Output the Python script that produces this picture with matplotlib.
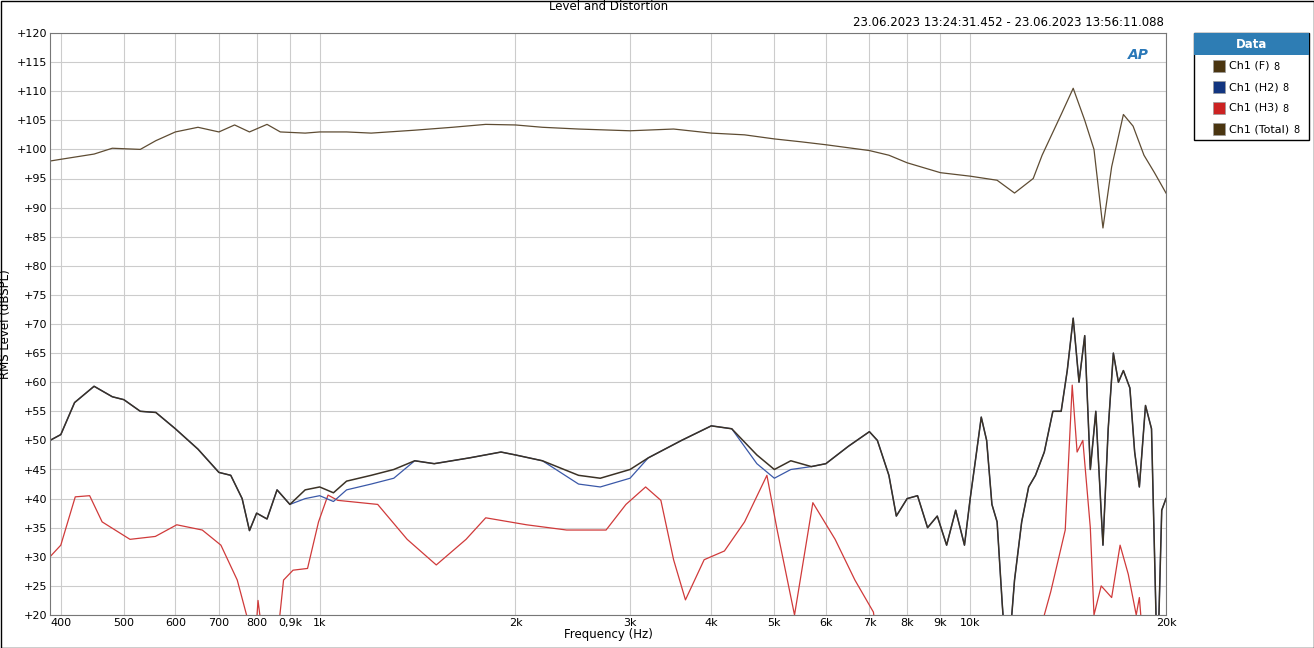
import matplotlib
matplotlib.use("Agg")
import matplotlib.pyplot as plt
from matplotlib.patches import Rectangle

f_freq = [385,400,450,480,530,560,600,650,700,740,780,830,870,950,1000,1100,1200,1400,1600,1800,2000,2200,2500,3000,3500,4000,4500,5000,5500,6000,7000,7500,8000,9000,10000,11000,11700,12500,12900,13800,14400,15000,15500,16000,16500,17200,17800,18500,19200,20000]
f_val  = [98,98.3,99.2,100.2,100,101.5,103,103.8,103,104.2,103,104.3,103,102.8,103,103,102.8,103.3,103.8,104.3,104.2,103.8,103.5,103.2,103.5,102.8,102.5,101.8,101.3,100.8,99.8,99,97.7,96,95.4,94.7,92.5,95,99,106,110.5,105,100,86.5,97,106,104,99,96,92.5]

t_freq = [385,400,420,450,480,500,530,560,600,650,700,730,760,780,800,830,860,900,950,1000,1050,1100,1200,1300,1400,1500,1700,1900,2000,2200,2500,2700,3000,3200,3600,4000,4300,4700,5000,5300,5700,6000,6500,7000,7200,7500,7700,8000,8300,8600,8900,9200,9500,9800,10000,10200,10400,10600,10800,11000,11200,11400,11700,12000,12300,12600,13000,13400,13800,14100,14400,14700,15000,15300,15600,16000,16300,16600,16900,17200,17600,17900,18200,18600,19000,19400,19700,20000]
t_val  = [50,51,56.5,59.3,57.5,57,55,54.8,52,48.5,44.5,44,40,34.5,37.5,36.5,41.5,39,41.5,42,41,43,44,45,46.5,46,47,48,47.5,46.5,44,43.5,45,47,50,52.5,52,47.5,45,46.5,45.5,46,49,51.5,50,44,37,40,40.5,35,37,32,38,32,40,47,54,50,39,36,22,10,26,36,42,44,48,55,55,62,71,60,68,45,55,32,52,65,60,62,59,48,42,56,52,10,38,40]
h2_val = [v - (1.5 if (950 <= f <= 1300 or 2500 <= f <= 3000 or 4700 <= f <= 5300) else 0) for f, v in zip(t_freq, t_val)]

h3_freq = [385,400,421,443,463,511,559,603,660,705,747,772,790,804,830,850,880,910,958,996,1030,1066,1228,1363,1511,1679,1800,2080,2397,2756,2957,3170,3346,3500,3650,3900,4190,4500,4870,5050,5370,5730,6200,6650,7100,7300,12800,13000,13300,13600,14000,14350,14600,14900,15300,15500,15900,16500,17000,17500,18000,18200,18600,20000]
h3_val = [30,32,40.3,40.5,36,33,33.5,35.5,34.6,32,26,20,10,22.5,10,10,26,27.7,28,36,40.6,39.7,39,33,28.6,33,36.7,35.5,34.6,34.6,39,42,39.7,29.5,22.6,29.5,31,36,44,34.6,20,39.3,33,26,20.5,10,10,20,24,28.6,34.6,59.5,48,50,35,20,25,23,32,27,20,23,10,10]

xticks = [400,500,600,700,800,900,1000,2000,3000,4000,5000,6000,7000,8000,9000,10000,20000]
xlabels = ["400","500","600","700","800","0,9k","1k","2k","3k","4k","5k","6k","7k","8k","9k","10k","20k"]
yticks = list(range(20, 121, 5))

fig = plt.figure(figsize=(13.14, 6.48), dpi=100)
ax = fig.add_axes([50/1314, 1-615/648, 1116/1314, 582/648])
ax.set_xscale("log")
ax.plot(h3_freq, h3_val, color="#d03a3a", lw=0.9)
ax.plot(t_freq, h2_val, color="#3a58a8", lw=0.9)
ax.plot(t_freq, t_val, color="#3b3226", lw=1.1)
ax.plot(f_freq, f_val, color="#5e4c33", lw=0.9)
ax.set_xlim(385, 20000)
ax.set_ylim(20, 120)
ax.set_xticks(xticks)
ax.set_xticklabels(xlabels)
ax.xaxis.set_minor_locator(matplotlib.ticker.NullLocator())
ax.set_yticks(yticks)
ax.set_yticklabels(["+%d" % v for v in yticks])
ax.tick_params(length=0, labelsize=8, pad=2)
ax.grid(True, color="#cccccc", lw=0.8)
for s in ax.spines.values():
    s.set_color("#777777")
ax.set_xlabel("Frequency (Hz)", fontsize=8.5, labelpad=0)
ax.set_ylabel("RMS Level (dBSPL)", fontsize=8.5)
ax.yaxis.set_label_coords(-38/1116, 0.5)
fig.text(609/1314, 1-7/648, "Level and Distortion", ha="center", va="center", fontsize=8.5)
fig.text(1164/1314, 1-22/648, "23.06.2023 13:24:31.452 - 23.06.2023 13:56:11.088", ha="right", va="center", fontsize=8.5)
ax.text(0.985, 0.975, "AP", transform=ax.transAxes, ha="right", va="top", color="#2a78b8", fontsize=10, fontweight="bold", style="italic")

# legend box
lx0, ly0, lw, lh = 1194, 33, 115, 107
fig.patches.append(Rectangle((lx0/1314, 1-(ly0+lh)/648), lw/1314, lh/648, transform=fig.transFigure, fc="white", ec="black", lw=1))
fig.patches.append(Rectangle((lx0/1314, 1-(ly0+22)/648), lw/1314, 22/648, transform=fig.transFigure, fc="#2e7db4", ec="none"))
fig.text((lx0+lw/2)/1314, 1-(ly0+11)/648, "Data", ha="center", va="center", color="white", fontsize=8.5, fontweight="bold")
names = ["Ch1 (F)", "Ch1 (H2)", "Ch1 (H3)", "Ch1 (Total)"]
cols = ["#4a3510", "#123580", "#cc2222", "#4a3510"]
renderer = fig.canvas.get_renderer()
for i, (n, c) in enumerate(zip(names, cols)):
    yc = ly0 + 33 + i*21
    fig.patches.append(Rectangle((1213/1314, 1-(yc+6)/648), 12/1314, 12/648, transform=fig.transFigure, fc=c, ec="#999999", lw=0.5))
    t = fig.text(1229/1314, 1-yc/648, n, ha="left", va="center", fontsize=8)
    bb = t.get_window_extent(renderer)
    fig.text((bb.x1 + 4)/1314, 1-(yc+1)/648, "8", ha="left", va="center", fontsize=7)
fig.patches.append(Rectangle((0.5/1314, 0.5/648), 1-1/1314, 1-1/648, transform=fig.transFigure, fc="none", ec="black", lw=1))
fig.savefig("out.png", dpi=100)
